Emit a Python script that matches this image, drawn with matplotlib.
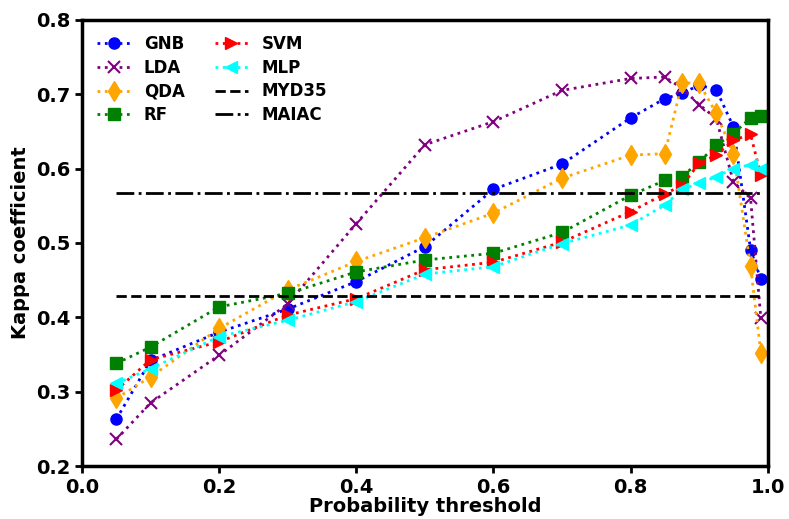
import numpy as np
import matplotlib.pyplot as plt

thresholds = [0.05, 0.1, 0.2, 0.3, 0.4, 0.5, 0.6, 0.7, 0.8, 0.85, 0.875, 0.9, 0.925, 0.95, 0.975, 0.99]

gnb = [0.263, 0.342, 0.380, 0.411, 0.448, 0.495, 0.572, 0.606, 0.668, 0.694, 0.701, 0.712, 0.706, 0.656, 0.491, 0.451]
lda = [0.236, 0.285, 0.349, 0.418, 0.526, 0.632, 0.663, 0.705, 0.721, 0.723, 0.708, 0.686, 0.667, 0.582, 0.560, 0.399]
qda = [0.291, 0.320, 0.385, 0.437, 0.475, 0.507, 0.540, 0.587, 0.618, 0.620, 0.715, 0.715, 0.674, 0.620, 0.469, 0.352]
rf = [0.338, 0.360, 0.414, 0.432, 0.461, 0.477, 0.486, 0.514, 0.564, 0.584, 0.589, 0.609, 0.631, 0.647, 0.668, 0.671]
svm = [0.302, 0.343, 0.367, 0.403, 0.425, 0.464, 0.474, 0.501, 0.542, 0.566, 0.577, 0.607, 0.618, 0.638, 0.646, 0.591]
mlp = [0.311, 0.331, 0.374, 0.396, 0.421, 0.458, 0.468, 0.499, 0.524, 0.551, 0.572, 0.580, 0.589, 0.600, 0.605, 0.600]

myd35 = 0.429
maiac = 0.567

plt.rcParams['font.weight'] = 'bold'
plt.rcParams['axes.labelweight'] = 'bold'

fig = plt.figure(figsize=(7.89, 5.19), dpi=100)
ax = fig.add_axes([0.104, 0.102, 0.869, 0.860])

ms = 8
ax.plot(thresholds, gnb, ':', color='blue', marker='o', ms=ms, lw=2, label='GNB')
ax.plot(thresholds, lda, ':', color='purple', marker='x', ms=ms, mew=1.5, lw=2, label='LDA')
ax.plot(thresholds, qda, ':', color='orange', marker='d', ms=ms + 2, lw=2, label='QDA')
ax.plot(thresholds, rf, ':', color='green', marker='s', ms=ms, lw=2, label='RF')
ax.plot(thresholds, svm, ':', color='red', marker='>', ms=ms + 1, lw=2, label='SVM')
ax.plot(thresholds, mlp, ':', color='cyan', marker='<', ms=ms + 1, lw=2, label='MLP')
ax.plot([thresholds[0], thresholds[-1]], [myd35, myd35], '--', color='black', lw=2, label='MYD35')
ax.plot([thresholds[0], thresholds[-1]], [maiac, maiac], '-.', color='black', lw=2, label='MAIAC')

ax.set_xlim(0, 1)
ax.set_ylim(0.2, 0.8)
ax.set_xticks([0.0, 0.2, 0.4, 0.6, 0.8, 1.0])
ax.set_yticks([0.2, 0.3, 0.4, 0.5, 0.6, 0.7, 0.8])
ax.tick_params(labelsize=14, width=2, length=5)
for s in ax.spines.values():
    s.set_linewidth(2.5)

ax.set_xlabel('Probability threshold', fontsize=14, labelpad=0)
ax.set_ylabel('Kappa coefficient', fontsize=14)

ax.legend(loc='upper left', ncol=2, frameon=False, fontsize=12,
          labelspacing=0.35, columnspacing=1.8)

fig.savefig('out.png', dpi=100)
